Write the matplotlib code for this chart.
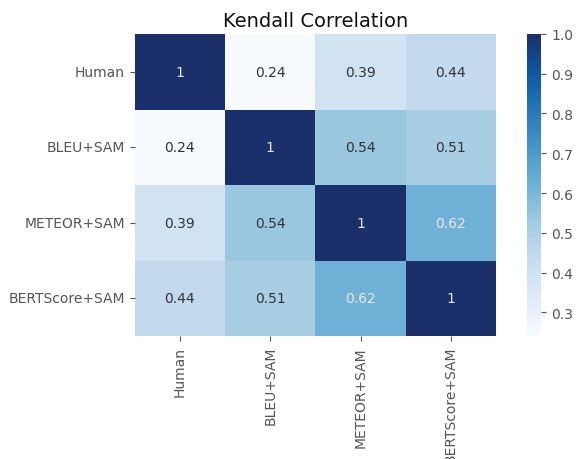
import numpy as np
import matplotlib
matplotlib.use("Agg")
import matplotlib.pyplot as plt
from matplotlib.colors import LinearSegmentedColormap
import seaborn as sns

labels = ["Human", "BLEU+SAM", "METEOR+SAM", "BERTScore+SAM"]
corr = [
    [1.00, 0.24, 0.39, 0.44],
    [0.24, 1.00, 0.54, 0.51],
    [0.39, 0.54, 1.00, 0.62],
    [0.44, 0.51, 0.62, 1.00],
]

plt.rcParams["font.family"] = ["DejaVu Sans"]
grey = "#555555"
plt.rcParams["xtick.color"] = grey
plt.rcParams["ytick.color"] = grey
plt.rcParams["xtick.labelcolor"] = grey
plt.rcParams["ytick.labelcolor"] = grey

# Blues, but ending in a slightly softer navy like the reference
blues = plt.get_cmap("Blues")
stops = [blues(x) for x in np.linspace(0, 0.85, 8)] + ["#1b2f6b"]
cmap = LinearSegmentedColormap.from_list("blues_soft", stops)

fig = plt.figure(figsize=(5.76, 4.6), dpi=100)
ax = fig.add_axes([0.234, 0.267, 0.627, 0.657])
cax = fig.add_axes([0.915, 0.267, 0.025, 0.657])

sns.heatmap(np.array(corr), annot=True, cmap=cmap, ax=ax, cbar_ax=cax,
            xticklabels=labels, yticklabels=labels,
            annot_kws={"fontsize": 10})
for t in ax.texts:
    if t.get_text() in ("0.24", "0.39", "0.44", "0.54", "0.51"):
        t.set_color("#333333")
    else:
        t.set_color("#e8e8e8")

ax.set_title("Kendall Correlation", fontsize=14, color="#111111")
ax.tick_params(axis="x", rotation=90, labelsize=10)
ax.tick_params(axis="y", rotation=0, labelsize=10)
cax.tick_params(labelsize=10, colors=grey)
for s in cax.spines.values():
    s.set_visible(False)

fig.savefig("out.png", dpi=100)
